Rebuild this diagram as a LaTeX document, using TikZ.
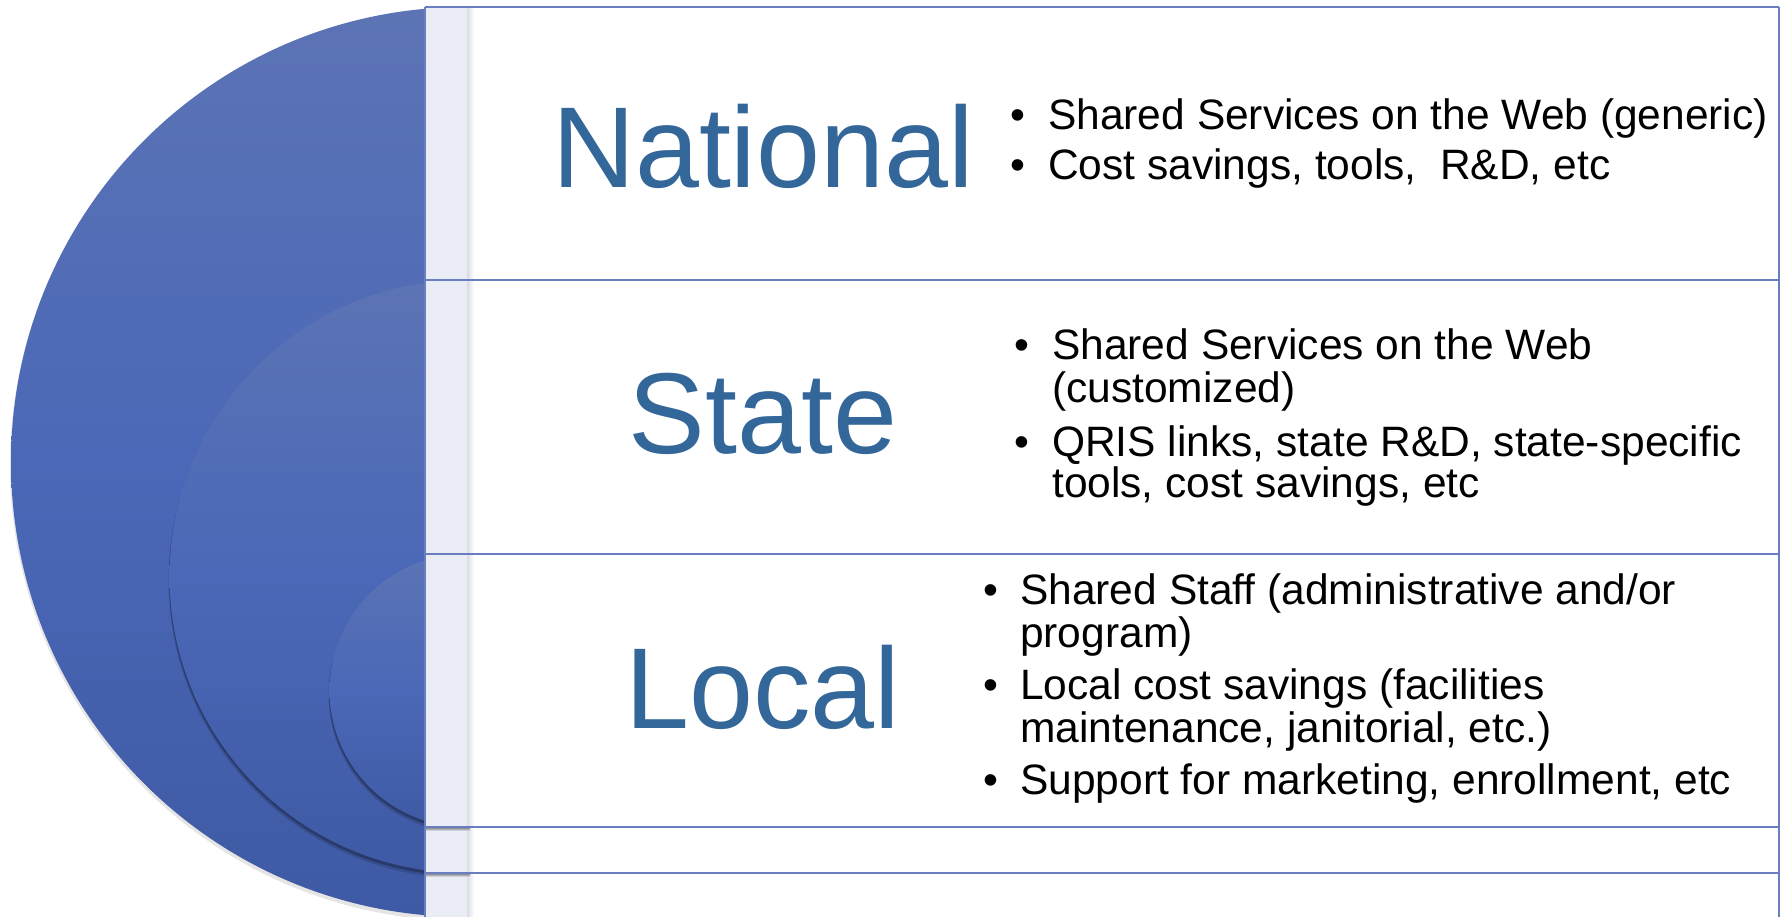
\documentclass[tikz,border=0pt]{standalone}
\usepackage{fontspec}
\setmainfont{Liberation Sans}
\definecolor{circtop}{RGB}{92,116,180}
\definecolor{circmid}{RGB}{75,104,184}
\definecolor{circbot}{RGB}{63,90,164}
\definecolor{bandc}{RGB}{234,237,246}
\definecolor{boxline}{RGB}{106,125,192}
\definecolor{titleblue}{RGB}{51,102,153}
\begin{document}
\begin{tikzpicture}[x=1pt,y=1pt,
  disc/.style={top color=circtop, bottom color=circbot, middle color=circmid},
  ttl/.style={font=\fontsize{115}{115}\selectfont, text=titleblue, anchor=base, inner sep=0pt},
  ln/.style={font=\fontsize{42.5}{43}\selectfont, anchor=base west, inner sep=0pt},
  bul/.style={font=\fontsize{42.5}{43}\selectfont, anchor=base west, inner sep=0pt},
  sepline/.style={draw=boxline, line width=1.6pt}]

\useasboundingbox (0,0) rectangle (1787,917);
\fill[white] (0,0) rectangle (1787,917);

% nested circles
\fill[black,opacity=0.10] (466,452) circle[radius=456pt];
\shade[disc] (466,455) circle[radius=455pt];
\fill[black,opacity=0.15] (466,336) circle[radius=297.5pt];
\fill[black,opacity=0.25] (466,338) circle[radius=297pt];
\shade[disc] (466,340.5) circle[radius=296.5pt];
\fill[black,opacity=0.15] (466,222) circle[radius=137.5pt];
\fill[black,opacity=0.25] (466,224) circle[radius=137pt];
\shade[disc] (466,226.5) circle[radius=136.5pt];

% panel
\fill[white] (425,0) rectangle (1779,910);
\fill[bandc] (425,0) rectangle (467,910);
\shade[left color=bandc!93!black, right color=white] (467,0) rectangle (474,910);
\shade[top color=black!55, bottom color=bandc] (426,86) rectangle (470,90);
\shade[top color=black!55, bottom color=bandc] (426,40) rectangle (470,44);

% frame lines
\draw[sepline] (425,0) -- (425,910);
\draw[sepline] (1779,0) -- (1779,910);
\draw[sepline] (425,910) -- (1779,910);
\draw[sepline] (425,637) -- (1779,637);
\draw[sepline] (425,363) -- (1779,363);
\draw[sepline] (425,90) -- (1779,90);
\draw[sepline] (425,44) -- (1779,44);

% titles
\node[ttl] (national) at (763,729) {National};
\node[ttl] (state) at (763,463) {State};
\node[ttl] (local) at (763,188) {Local};

% National bullets
\node[bul] (nb1) at (1010,787) {•};
\node[ln] (n1) at (1048,787) {Shared Services on the Web (generic)};
\node[bul] (nb2) at (1010,737) {•};
\node[ln] (n2) at (1048,737) {Cost savings, tools,\ \ R\&D, etc};

% State bullets
\node[bul] (sb1) at (1014,557) {•};
\node[ln] (s1a) at (1052,557) {Shared Services on the Web};
\node[ln] (s1b) at (1052,514) {(customized)};
\node[bul] (sb2) at (1014,460) {•};
\node[ln] (s2a) at (1052,460) {QRIS links, state R\&D, state-specific};
\node[ln] (s2b) at (1052,419) {tools, cost savings, etc};

% Local bullets
\node[bul] (lb1) at (983,312) {•};
\node[ln] (l1a) at (1020,312) {Shared Staff (administrative and/or};
\node[ln] (l1b) at (1020,269) {program)};
\node[bul] (lb2) at (983,217) {•};
\node[ln] (l2a) at (1020,217) {Local cost savings (facilities};
\node[ln] (l2b) at (1020,174) {maintenance, janitorial, etc.)};
\node[bul] (lb3) at (983,122) {•};
\node[ln] (l3a) at (1020,122) {Support for marketing, enrollment, etc};
\end{tikzpicture}
\end{document}
